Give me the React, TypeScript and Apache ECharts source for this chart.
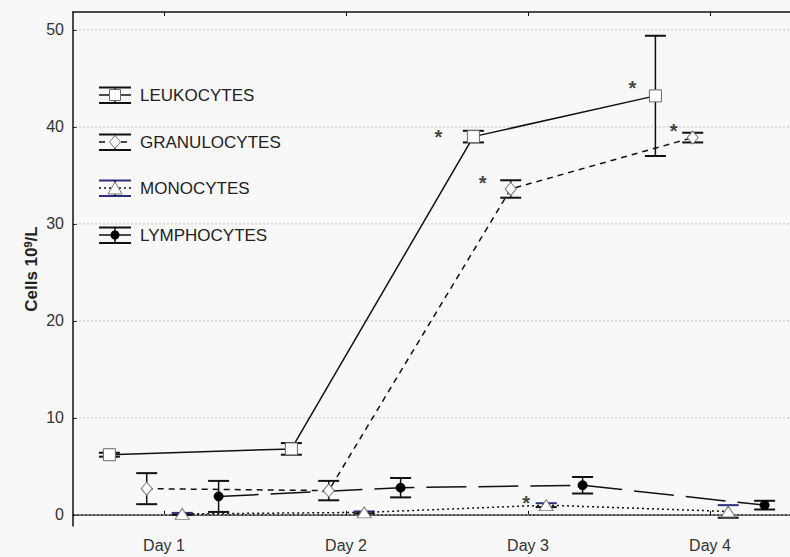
import { useEffect, useRef } from "react";
import * as echarts from "echarts";

const days = ["Day 1", "Day 2", "Day 3", "Day 4"];
const yTicks = [0, 10, 20, 30, 40, 50];
const dayValues = [1, 2, 3, 4];

const seriesNames = ["LEUKOCYTES", "GRANULOCYTES", "MONOCYTES", "LYMPHOCYTES"];
const leukocytesMean = [6.2, 6.8, 39.0, 43.2];
const leukocytesErr = [0.2, 0.6, 0.6, 6.2];
const granulocytesMean = [2.7, 2.5, 33.6, 38.9];
const granulocytesErr = [1.6, 1.0, 0.9, 0.5];
const monocytesMean = [0.1, 0.25, 1.0, 0.35];
const monocytesErr = [0.1, 0.1, 0.2, 0.65];
const lymphocytesMean = [1.9, 2.8, 3.05, 1.0];
const lymphocytesErr = [1.6, 1.0, 0.85, 0.45];

const leukocytesSig = [false, false, true, true];
const granulocytesSig = [false, false, true, true];
const monocytesSig = [false, false, true, false];
const lymphocytesSig = [false, false, false, false];

type Cfg = {
  name: string;
  mean: number[];
  err: number[];
  sig: boolean[];
  offset: number;
  dash: any;
  symbol: string;
  symbolSize: any;
  fill: string;
  border: string;
  capColor: string;
  starOffsets: number[][];
};

const configs: Cfg[] = [
  {
    name: seriesNames[0], mean: leukocytesMean, err: leukocytesErr, sig: leukocytesSig,
    offset: -0.3, dash: "solid", symbol: "rect", symbolSize: [12, 12],
    fill: "#ffffff", border: "#6a6a6a", capColor: "#111111",
    starOffsets: [[0, 0], [0, 0], [-35, 0], [-23, -8]],
  },
  {
    name: seriesNames[1], mean: granulocytesMean, err: granulocytesErr, sig: granulocytesSig,
    offset: -0.095, dash: [6, 5], symbol: "diamond", symbolSize: [11, 13],
    fill: "#ffffff", border: "#7a7a7a", capColor: "#111111",
    starOffsets: [[0, 0], [0, 0], [-28, -6], [-19, -7]],
  },
  {
    name: seriesNames[2], mean: monocytesMean, err: monocytesErr, sig: monocytesSig,
    offset: 0.1, dash: [2, 3], symbol: "triangle", symbolSize: [14, 11],
    fill: "#ffffff", border: "#7a7a7a", capColor: "#2e2e80",
    starOffsets: [[0, 0], [0, 0], [-20, -2], [0, 0]],
  },
  {
    name: seriesNames[3], mean: lymphocytesMean, err: lymphocytesErr, sig: lymphocytesSig,
    offset: 0.3, dash: [40, 12], symbol: "circle", symbolSize: 9,
    fill: "#000000", border: "#000000", capColor: "#111111",
    starOffsets: [[0, 0], [0, 0], [0, 0], [0, 0]],
  },
];

const legendRows = [95, 142, 188, 235];

function legendGraphics() {
  const els: any[] = [];
  configs.forEach((c, i) => {
    const y = legendRows[i];
    const x0 = 99, x1 = 131, cx = 115;
    const lineDash = c.dash === "solid" || c.name === "LYMPHOCYTES" ? null : c.dash;
    els.push({ type: "line", shape: { x1: x0, y1: y - 7.5, x2: x1, y2: y - 7.5 }, style: { stroke: c.capColor, lineWidth: 2 } });
    els.push({ type: "line", shape: { x1: x0, y1: y + 8, x2: x1, y2: y + 8 }, style: { stroke: c.capColor, lineWidth: 2 } });
    els.push({ type: "line", shape: { x1: cx, y1: y - 7.5, x2: cx, y2: y + 8 }, style: { stroke: "#111", lineWidth: 1.5 } });
    els.push({ type: "line", shape: { x1: x0, y1: y, x2: x1, y2: y }, style: { stroke: "#111", lineWidth: 1.5, lineDash } });
    if (c.symbol === "rect") {
      els.push({ type: "rect", shape: { x: cx - 5.5, y: y - 5.5, width: 11, height: 11 }, style: { fill: c.fill, stroke: c.border, lineWidth: 1 } });
    } else if (c.symbol === "diamond") {
      els.push({ type: "polygon", shape: { points: [[cx, y - 6.5], [cx + 5.5, y], [cx, y + 6.5], [cx - 5.5, y]] }, style: { fill: c.fill, stroke: c.border, lineWidth: 1 } });
    } else if (c.symbol === "triangle") {
      els.push({ type: "polygon", shape: { points: [[cx, y - 6], [cx + 7, y + 6], [cx - 7, y + 6]] }, style: { fill: c.fill, stroke: c.border, lineWidth: 1 } });
    } else {
      els.push({ type: "circle", shape: { cx, cy: y, r: 4.5 }, style: { fill: "#000" } });
    }
    els.push({
      type: "text", x: 140, y, style: {
        text: c.name, fill: "#222", font: "17px 'Liberation Sans', Arial, sans-serif",
        textVerticalAlign: "middle", verticalAlign: "middle",
      },
    });
  });
  return els;
}

export default function App() {
  const ref = useRef<HTMLDivElement>(null);
  useEffect(() => {
    document.body.style.margin = "0";
    const chart = echarts.init(ref.current!, undefined, { renderer: "svg" });
    const series: any[] = [];

    // dotted horizontal gridlines, drawn through the y scale
    series.push({
      type: "custom",
      silent: true,
      z: 1,
      data: yTicks.map((v) => [v]),
      encode: { y: 0 },
      renderItem: (params: any, api: any) => {
        const cs = params.coordSys;
        const p = api.coord([0.5, api.value(0)]);
        return {
          type: "line",
          shape: { x1: cs.x + 2, y1: p[1], x2: cs.x + cs.width, y2: p[1] },
          style: { stroke: "#c2c2c2", lineWidth: 1, lineDash: [2, 2] },
        };
      },
    });

    configs.forEach((c) => {
      series.push({
        type: "custom",
        name: c.name + " err",
        z: 2,
        silent: true,
        data: c.mean.map((m, i) => [dayValues[i] + c.offset, m - c.err[i], m + c.err[i]]),
        renderItem: (_p: any, api: any) => {
          const x = api.value(0);
          const lo = api.coord([x, api.value(1)]);
          const hi = api.coord([x, api.value(2)]);
          const hw = 10.5;
          return {
            type: "group",
            children: [
              { type: "line", shape: { x1: lo[0], y1: lo[1], x2: hi[0], y2: hi[1] }, style: { stroke: "#111", lineWidth: 1.5 } },
              { type: "line", shape: { x1: hi[0] - hw, y1: hi[1], x2: hi[0] + hw, y2: hi[1] }, style: { stroke: c.capColor, lineWidth: 2 } },
              { type: "line", shape: { x1: lo[0] - hw, y1: lo[1], x2: lo[0] + hw, y2: lo[1] }, style: { stroke: "#111", lineWidth: 2 } },
            ],
          };
        },
      });
      series.push({
        type: "line",
        name: c.name,
        z: 3,
        data: c.mean.map((m, i) => [dayValues[i] + c.offset, m]),
        symbol: c.symbol,
        symbolSize: c.symbolSize,
        showAllSymbol: true,
        lineStyle: { color: "#111", width: 1.5, type: c.dash },
        itemStyle: { color: c.fill, borderColor: c.border, borderWidth: 1 },
      });
      const stars = c.mean
        .map((m, i) => ({ value: [dayValues[i] + c.offset, m], i }))
        .filter((d) => c.sig[d.i]);
      if (stars.length) {
        series.push({
          type: "scatter",
          z: 4,
          silent: true,
          symbolSize: 0,
          data: stars.map((d) => ({
            value: d.value,
            label: {
              show: true,
              formatter: "*",
              position: "inside",
              offset: c.starOffsets[d.i],
              fontSize: 20,
              fontWeight: "bold",
              color: "#111",
              fontFamily: "'Liberation Sans', Arial, sans-serif",
            },
          })),
        });
      }
    });

    chart.setOption({
      animation: false,
      backgroundColor: "#f8f8f8",
      graphic: legendGraphics(),
      grid: { left: 73, right: -11, top: 12, bottom: 31, outerBoundsMode: "none" },
      xAxis: [
        {
          type: "value",
          min: 0.5,
          max: 4.5,
          position: "bottom",
          axisLine: { show: true, lineStyle: { color: "#111", width: 1.5 } },
          axisTick: { show: true, inside: true, length: 4, customValues: dayValues, lineStyle: { color: "#111" } },
          axisLabel: {
            customValues: dayValues,
            formatter: (v: number) => days[Math.round(v) - 1] ?? "",
            fontSize: 16,
            color: "#333",
            margin: 11,
            fontFamily: "'Liberation Sans', Arial, sans-serif",
          },
          splitLine: { show: false },
        },
        {
          type: "value",
          min: 0.5,
          max: 4.5,
          position: "top",
          axisLine: { show: true, lineStyle: { color: "#111", width: 1.5 } },
          axisTick: { show: true, inside: true, length: 4, customValues: dayValues, lineStyle: { color: "#111" } },
          axisLabel: { show: false },
          splitLine: { show: false },
        },
      ],
      yAxis: {
        type: "value",
        min: -1.15,
        max: 51.85,
        name: "Cells 10{sup|9}/L",
        nameLocation: "middle",
        nameGap: 32,
        nameMoveOverlap: false,
        nameTextStyle: {
          fontSize: 17,
          fontWeight: "bold",
          color: "#222",
          fontFamily: "'Liberation Sans', Arial, sans-serif",
          rich: {
            sup: { fontSize: 11, fontWeight: "bold", verticalAlign: "top", color: "#222", padding: [0, 0, 8, 0] },
          },
        },
        axisLine: { show: true, lineStyle: { color: "#111", width: 1.5 } },
        axisTick: { show: true, inside: true, length: 4, customValues: yTicks, lineStyle: { color: "#111" } },
        axisLabel: {
          customValues: yTicks,
          fontSize: 16,
          color: "#333",
          margin: 9,
          fontFamily: "'Liberation Sans', Arial, sans-serif",
        },
        splitLine: { show: false },
      },
      series,
    });
    return () => chart.dispose();
  }, []);
  return <div ref={ref} style={{ width: 790, height: 557 }} />;
}
